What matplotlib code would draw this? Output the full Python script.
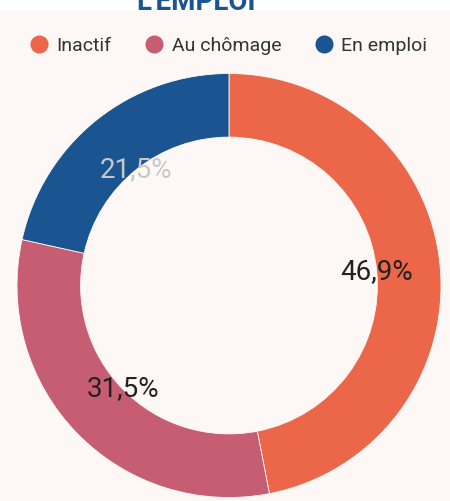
import matplotlib.pyplot as plt
from matplotlib.lines import Line2D

plt.rcParams['font.family'] = ['Roboto', 'DejaVu Sans']

labels = ['Inactif', 'Au chômage', 'En emploi']
values = [46.9, 31.5, 21.5]
colors = ['#EC6649', '#C75D72', '#1A5491']
text_colors = ['#222222', '#222222', '#C8C8C8']
bg = '#FDF8F5'

fig = plt.figure(figsize=(4.5, 5.01), dpi=100)
fig.patch.set_facecolor(bg)

# bande blanche du titre (coupée en haut, comme sur l'original)
fig.patches.append(plt.Rectangle((0, 1 - 11/501), 1, 11/501, transform=fig.transFigure,
                                 facecolor='white', edgecolor='none'))
fig.text(0.435, 1 - 10/501, "L'EMPLOI", ha='center', va='baseline', fontsize=20,
         fontweight='bold', color='#1A5491')

ax = fig.add_axes([17/450, 3/501, 424/450, 425/501])
ax.set_facecolor(bg)
wedges, texts, autotexts = ax.pie(values, colors=colors, startangle=90, counterclock=False,
                                  radius=1, wedgeprops=dict(width=0.3, edgecolor=bg, linewidth=0.6),
                                  autopct=lambda p: f'{p:.1f}%'.replace('.', ','),
                                  pctdistance=0.70)
for t, c in zip(autotexts, text_colors):
    t.set_color(c)
    t.set_fontsize(20)
ax.set_xlim(-1, 1)
ax.set_ylim(-1, 1)
ax.set_aspect('equal')
ax.axis('off')

handles = [Line2D([0], [0], marker='o', linestyle='', markersize=12,
                  markerfacecolor=c, markeredgecolor=c) for c in colors]
fig.legend(handles, labels, loc='center', bbox_to_anchor=(0.505, 1 - 46/501), ncol=3,
           frameon=False, fontsize=14, handletextpad=0.3, columnspacing=1.6,
           handlelength=1.2, labelcolor='#333333')

fig.savefig('out.png', facecolor=bg)
